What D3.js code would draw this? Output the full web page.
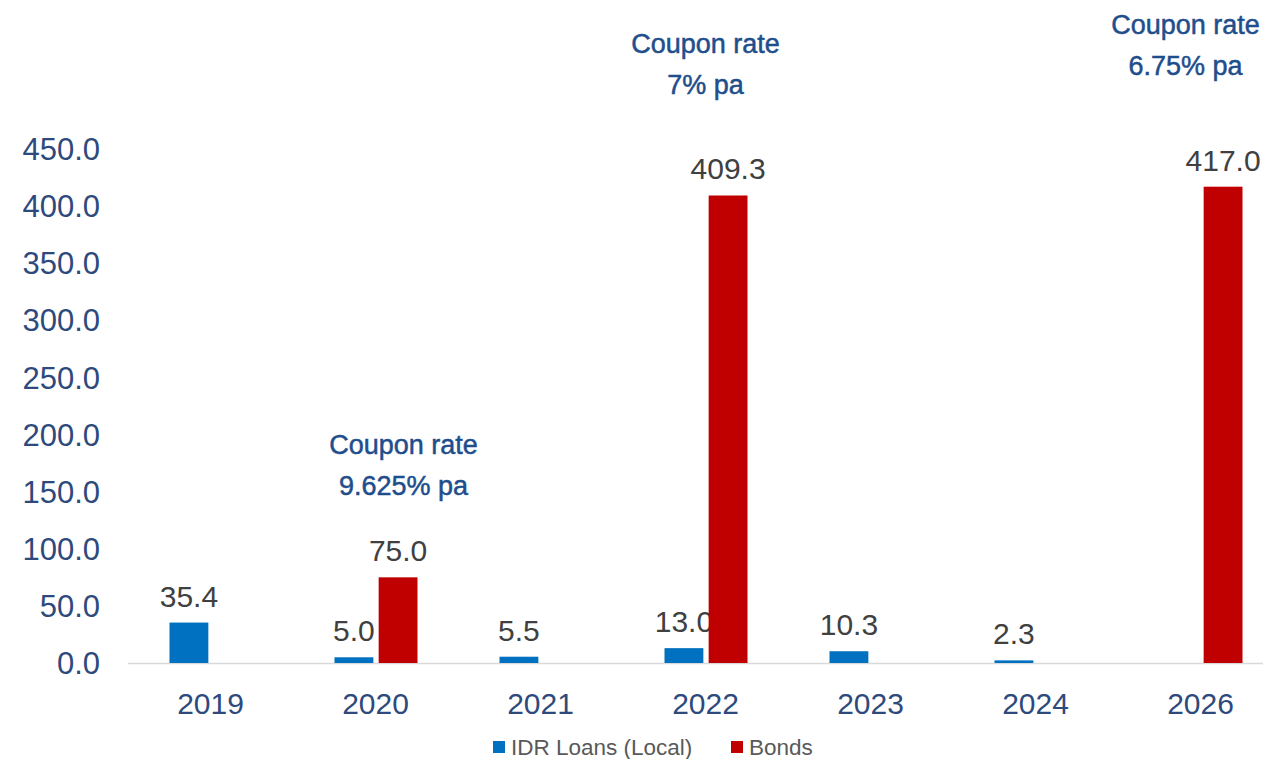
<!DOCTYPE html>
<html><head><meta charset="utf-8">
<script src="https://cdn.jsdelivr.net/npm/d3@7"></script>
<style>body{margin:0;background:#fff;overflow:hidden}</style>
</head><body>
<svg id="chart" width="1263" height="759"></svg>
<script>
const categories = ["2019","2020","2021","2022","2023","2024","2026"];
const idrLoans = [35.4, 5.0, 5.5, 13.0, 10.3, 2.3, null];
const bonds = [null, 75.0, null, 409.3, null, null, 417.0];
const yTicks = [0,50,100,150,200,250,300,350,400,450];
const seriesNames = ["IDR Loans (Local)", "Bonds"];
const seriesColors = ["#0070C0", "#C00000"];
const annotCats = ["2020","2022","2026"];
const annotLines = [["Coupon rate","9.625% pa"],["Coupon rate","7% pa"],["Coupon rate","6.75% pa"]];
const annotDx = [28, 0, -15];
const annotTop = [444, 43, 24];

const svg = d3.select("#chart");
const x = d3.scaleBand().domain(categories).range([128, 1283]).paddingInner(0).paddingOuter(0);
const y = d3.scaleLinear().domain([0,450]).range([663,149]);
const sub = d3.scaleBand().domain([0,1]).range([-41, 42]).paddingInner(0.12);

const fontMain = "'Liberation Sans', Arial, sans-serif";
const axisColor = "#2E4A7D";

// axis line
svg.append("line").attr("x1",128).attr("x2",1263).attr("y1",y(0)+0.5).attr("y2",y(0)+0.5)
  .attr("stroke","#D9D9D9").attr("stroke-width",1.5);

// y ticks
svg.append("g").selectAll("text").data(yTicks).join("text")
  .attr("x",100).attr("y",d=>y(d)).attr("dy","0.36em").attr("text-anchor","end")
  .attr("font-family",fontMain).attr("font-size",31).attr("fill",axisColor)
  .text(d=>d3.format(".1f")(d));

// x labels
svg.append("g").selectAll("text").data(categories).join("text")
  .attr("x",d=>x(d)+x.bandwidth()/2).attr("y",714).attr("text-anchor","middle")
  .attr("font-family",fontMain).attr("font-size",30).attr("fill",axisColor).text(d=>d);

const series = [idrLoans, bonds];
series.forEach((vals, si) => {
  const data = categories.map((c,i)=>({c, v: vals[i]})).filter(d=>d.v!=null);
  const g = svg.append("g");
  g.selectAll("rect").data(data).join("rect")
    .attr("x", d=>x(d.c)+x.bandwidth()/2+sub(si))
    .attr("width", sub.bandwidth())
    .attr("y", d=>y(d.v)).attr("height", d=>y(0)-y(d.v))
    .attr("fill", seriesColors[si]);
  g.selectAll("text").data(data).join("text")
    .attr("x", d=>x(d.c)+x.bandwidth()/2+sub(si)+sub.bandwidth()/2)
    .attr("y", d=>y(d.v)-16).attr("text-anchor","middle")
    .attr("font-family",fontMain).attr("font-size",30).attr("fill","#404040")
    .text(d=>d3.format(".1f")(d.v));
});

// annotations
annotCats.forEach((c,i)=>{
  const cx = x(c)+x.bandwidth()/2+annotDx[i];
  annotLines[i].forEach((t,j)=>{
    svg.append("text").attr("x",cx).attr("y",annotTop[i]+j*41).attr("dy","0.36em")
      .attr("text-anchor","middle").attr("font-family",fontMain).attr("font-size",27)
      .attr("fill","#1F4E8C").attr("stroke","#1F4E8C").attr("stroke-width",0.5).text(t);
  });
});

// legend
const leg = svg.append("g");
const legX = [493, 731];
seriesNames.forEach((n,i)=>{
  leg.append("rect").attr("x",legX[i]).attr("y",741).attr("width",12).attr("height",12).attr("fill",seriesColors[i]);
  leg.append("text").attr("x",legX[i]+18).attr("y",755).attr("font-family",fontMain)
    .attr("font-size",22.5).attr("fill","#595959").text(n);
});
</script>
</body></html>
